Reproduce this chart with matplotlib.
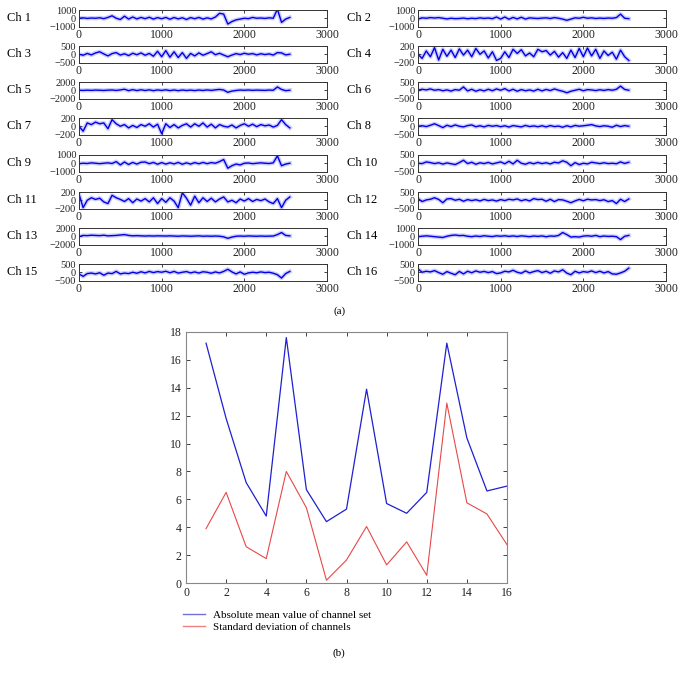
import numpy as np
import matplotlib
matplotlib.use("Agg")
import matplotlib.pyplot as plt
from matplotlib.lines import Line2D

plt.rcParams['font.family'] = ['Liberation Serif', 'DejaVu Serif']
plt.rcParams['mathtext.fontset'] = 'stix'

# ---------------- data ----------------
sample_index = list(range(0, 2600, 50))  # 52 samples, 0..2550

ch1 = [0, 50, -20, 30, 0, 60, -50, 100, 300, 0, -150, 250, -100, 150, -80, 100, -50, 120, -100, 80,
       -60, 100, -120, 90, -80, 60, -150, 80, -60, 100, -100, 50, -80, 150, 600, 500, -700, -400, -200, -100,
       0, -50, 100, 0, 30, -20, 50, 0, 1100, -500, -100, 100]
ch2 = [-100, 50, 0, 80, 30, 80, 0, -80, 0, -50, -30, 20, -60, 0, -40, 50, -20, 30, -50, 150,
       -100, 150, -120, 100, -80, 120, -100, 50, 0, -30, 20, 50, -30, 80, 0, -100, -250, -100, 50, 0,
       120, 0, 50, -30, 20, -20, 30, 0, 80, 500, 0, -50]
ch3 = [0, -60, 50, -40, 80, 150, 20, -100, 40, 100, -50, 30, -80, 60, -30, 80, -60, 50, -120, 180,
       -150, 220, -180, 150, -200, 100, -250, 50, -100, 80, -60, 40, 150, -30, 60, -50, -150, -50, 40, -20,
       60, 0, 40, -40, 30, -20, 20, -50, 100, 80, -40, 0]
ch4 = [0, -100, 80, -60, 160, -140, 120, -50, 100, -80, 130, -20, 100, -60, 140, 0, 80, -90, 60, -150,
       -100, 60, -80, 120, 20, 110, -40, 30, -60, 120, 60, 90, -20, 70, -70, 40, -100, 100, -80, 140,
       -60, 150, -40, 120, -100, 80, -30, 50, -120, 100, -60, -150]
ch5 = [0, -40, 20, -30, 40, 0, -50, 30, 60, -40, 80, 250, -100, 150, -80, 120, -60, 100, -100, 80,
       -50, 100, -80, 60, -100, 50, -60, 30, -80, 50, -50, 80, -40, 100, 200, 50, -500, -200, -50, 50,
       0, 60, -20, 40, 0, -30, 50, 0, 800, 200, -100, 0]
ch6 = [0, 60, 20, 80, 0, 40, -30, 20, -50, 40, 0, 200, -40, 60, -60, 30, -40, 60, -30, 80,
       0, 100, -40, 60, -60, 40, -30, 20, -50, 60, -40, 50, -20, 80, 0, -60, -150, -60, 0, 60,
       -30, 40, 20, -20, 30, -10, 40, 0, 60, 250, 50, 0]
ch7 = [0, -120, 80, 40, 100, 60, 80, -60, 160, 60, 0, 40, -40, 20, -30, 40, 0, 60, -20, 50,
       -180, 60, -30, 40, -40, 20, 60, -20, 60, 0, 80, -20, 50, -40, 40, 0, -20, 30, -40, 20,
       60, 0, 50, -10, 40, 10, 30, -20, 20, 160, 40, -40]
ch8 = [0, 30, -20, 60, 150, 40, -80, 60, -20, 80, 0, -40, 40, 80, -30, 30, -40, 50, 0, 40,
       -30, 30, -50, 40, 0, -40, 50, -20, 20, -30, 30, -40, 40, -20, 10, -60, 30, -40, 50, 0,
       30, 60, 100, 20, -20, 30, 0, -60, 60, -20, 40, 0]
ch9 = [-50, 0, -30, 50, 0, -50, 0, 50, -30, 200, -200, 150, -150, 100, -100, 120, 150, -50, 100, -120,
       80, -100, 60, -80, 100, -120, 50, -100, 80, -60, 100, -50, 80, 0, 200, 450, -600, -300, -100, -200,
       0, 30, -50, 0, 50, 0, -30, 50, 900, -300, -100, 0]
ch10 = [0, -20, 80, 40, -20, 30, -50, 20, -30, -80, 40, 180, -20, 60, -60, 30, -20, 50, -40, 20,
        80, -30, 120, -40, 180, 0, -60, 40, -30, 50, -20, 30, -40, 60, 20, 150, 60, -150, 40, -80,
        0, -40, 60, 20, -20, 30, -20, 0, -30, 80, -10, 60]
ch11 = [150, -180, 0, 60, 20, 50, -40, -80, 120, 60, 20, -30, 40, -60, 30, -20, 40, -40, 60, -80,
        40, -50, 60, -20, -180, 180, 50, -120, 100, -60, 60, -30, 50, -40, 30, 80, -40, 0, -60, 30,
        -20, 40, -30, 20, -10, 30, -40, -80, 40, -180, 0, 80]
ch12 = [100, -80, 20, 60, 150, 50, -150, 80, 100, 0, 60, -60, 40, -20, 30, -40, 50, -20, 20, -50,
        40, -20, 60, 20, 80, -30, 40, -40, 100, 40, 60, -60, 60, -80, 40, 20, -60, -150, -40, 50,
        -30, 60, 20, 40, -20, 30, -80, -20, -200, 60, -80, 80]
ch13 = [-100, 200, 150, 250, 200, 150, 250, 100, 150, 200, 300, 400, 200, 100, 150, 100, 50, 100, 50, 100,
        80, 50, 100, 50, 0, 80, 50, 0, 50, 100, 0, 50, 0, 50, 0, -150, -500, -200, 0, 50,
        0, 80, 30, 0, 50, 0, 30, 50, 400, 900, 200, 100]
ch14 = [-50, 0, 50, 0, -50, -100, -150, 0, 100, 150, 80, 100, 0, -50, 30, -30, 60, 0, -40, 50,
        0, 60, -20, 40, -30, 50, 0, -50, 30, -20, 40, -60, 30, 0, 100, 450, 200, -100, -50, -100,
        20, 60, 0, 100, -50, 30, -20, 0, -50, -400, 0, 100]
ch15 = [-100, -250, -80, -50, -100, -30, -180, -50, -80, 50, -100, -50, -80, 0, -60, 30, -40, 50, -20, 40,
        0, 60, -30, 50, -50, 0, 40, -40, 20, -50, 30, 0, -60, 20, -40, 50, 180, 20, -100, 20,
        -120, -40, 0, -30, 20, -20, 0, -60, -150, -350, -80, 50]
ch16 = [200, 0, 60, 20, 100, -20, -120, 40, -60, -150, 50, -100, 60, -30, 80, 0, 50, -20, 40, -80,
        -40, 60, 20, 120, 0, -60, 80, -40, 40, 100, -20, 60, -60, 80, 20, 150, -50, -150, 60, -40,
        40, 0, 80, -20, 60, -40, 40, -100, -120, -40, 60, 250]

channels = [ch1, ch2, ch3, ch4, ch5, ch6, ch7, ch8, ch9, ch10, ch11, ch12, ch13, ch14, ch15, ch16]
channel_names = [f"Ch {i}" for i in range(1, 17)]
channel_limits = [1000, 1000, 500, 200, 2000, 500, 200, 500, 1000, 500, 200, 500, 2000, 1000, 500, 500]
signal_xticks = [0, 1000, 2000, 3000]

channel_no = list(range(1, 17))
abs_mean = [17.2, 11.8, 7.2, 4.8, 17.6, 6.7, 4.4, 5.3, 13.9, 5.7, 5.0, 6.5, 17.2, 10.4, 6.6, 6.95]
std_dev = [3.9, 6.5, 2.6, 1.75, 8.0, 5.4, 0.2, 1.65, 4.05, 1.3, 2.95, 0.55, 12.9, 5.75, 4.95, 2.75]
legend_labels = ["Absolute mean value of channel set", "Standard deviation of channels"]

# ---------------- figure ----------------
W, H = 682, 675
fig = plt.figure(figsize=(W / 100, H / 100), dpi=100)

def fx(px):
    return px / W

def fy(py):
    return 1 - py / H

col_left = [79, 418]
col_w = 248
row_tops = [10, 46, 82, 118, 155, 192, 228, 264]
row_h = 16.5

for i, (sig, name, lim) in enumerate(zip(channels, channel_names, channel_limits)):
    col = i % 2
    row = i // 2
    left = col_left[col]
    top = row_tops[row]
    ax = fig.add_axes([fx(left), fy(top + row_h), fx(col_w), row_h / H])
    ax.plot(sample_index, sig, color='#3030ff', lw=3.0, alpha=0.25, solid_joinstyle='round')
    ax.plot(sample_index, sig, color='#0000e6', lw=1.0)
    ax.set_xlim(0, 3000)
    ax.set_ylim(-lim, lim)
    ax.set_xticks(signal_xticks)
    ax.set_yticks([-lim, 0, lim])
    ax.set_yticklabels([f"\u2212{lim}", "0", f"{lim}"])
    ax.tick_params(direction='in', length=2.5, width=0.6,
                   top=True, right=True, pad=1.5, colors='#222222')
    ax.tick_params(axis='x', labelsize=8.5)
    ax.tick_params(axis='y', pad=2.0, labelsize=7.5)
    for s in ax.spines.values():
        s.set_color('#333333')
        s.set_linewidth(0.7)
    lx = 7 if col == 0 else 347
    fig.text(fx(lx), fy(top + row_h / 2), name, ha='left', va='center', fontsize=9)

fig.text(fx(340), fy(311), "(a)", ha='center', va='center', fontsize=8)

# bottom plot
axb = fig.add_axes([fx(186), fy(583), fx(507 - 186), (583 - 332) / H])
l1, = axb.plot(channel_no, abs_mean, color='#2020d0', lw=0.9)
l2, = axb.plot(channel_no, std_dev, color='#e84848', lw=0.8)
axb.set_xlim(0, 16)
axb.set_ylim(0, 18)
axb.set_xticks(range(0, 17, 2))
axb.set_yticks(range(0, 19, 2))
axb.tick_params(direction='in', length=3, width=0.6, labelsize=8.5, top=True, right=True,
                colors='#222222', pad=3)
for s in axb.spines.values():
    s.set_color('#888888')
    s.set_linewidth(0.8)

fig.legend([Line2D([], [], color='#7070e0', lw=1.0), Line2D([], [], color='#f08080', lw=1.0)],
           legend_labels, loc='upper left', bbox_to_anchor=(fx(183), fy(610)),
           bbox_transform=fig.transFigure, frameon=False, fontsize=8,
           handlelength=2.0, handletextpad=0.7, borderpad=0, borderaxespad=0, labelspacing=0.2)

fig.text(fx(339), fy(653), "(b)", ha='center', va='center', fontsize=8)

fig.savefig("out.png", dpi=100)
